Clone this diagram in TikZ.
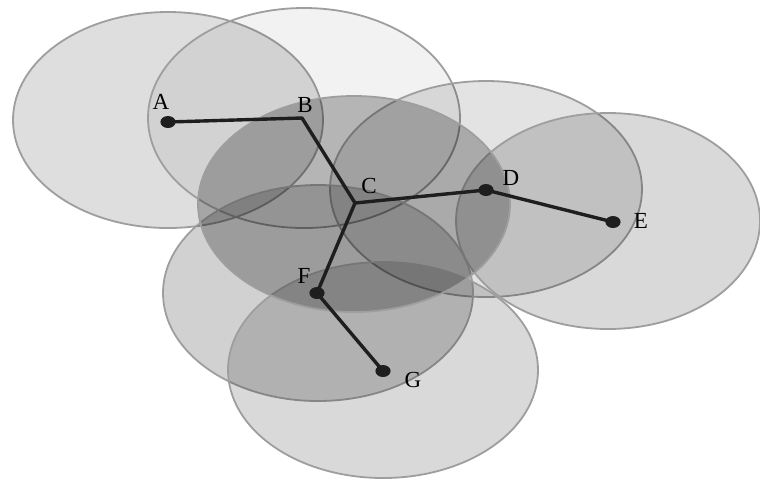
\documentclass[tikz,border=0pt]{standalone}
\usepackage{fontspec}
\setmainfont{Liberation Serif}
\usetikzlibrary{shapes.geometric}
\definecolor{rimgray}{RGB}{158,158,158}
\definecolor{linkdark}{RGB}{30,30,30}

\begin{document}
\begin{tikzpicture}[x=0.5pt,y=-0.5pt,
    zone/.style={draw=rimgray,line width=0.9pt,fill=black,fill opacity=#1},
    dot/.style={ellipse,fill=linkdark,inner sep=0pt,minimum width=7.6pt,minimum height=6pt},
    joint/.style={coordinate},
    tag/.style={font=\fontsize{11.5}{12}\selectfont,inner sep=0pt},
    link/.style={draw=linkdark,line width=1.7pt,line join=round}]
    \useasboundingbox (0,0) rectangle (760,479);
    \fill[white] (0,0) rectangle (760,479);
    % coverage zones
    \path[zone=0.13] (168,120) ellipse [x radius=77.5pt,y radius=54pt];
    \path[zone=0.05] (304,118) ellipse [x radius=78pt,y radius=55pt];
    \path[zone=0.11] (486,189) ellipse [x radius=78pt,y radius=54pt];
    \path[zone=0.15] (608,221) ellipse [x radius=76pt,y radius=54pt];
    \path[zone=0.18] (318,293) ellipse [x radius=77.5pt,y radius=54pt];
    \path[zone=0.15] (383,370) ellipse [x radius=77.5pt,y radius=54pt];
    \path[zone=0.25] (354,204) ellipse [x radius=78pt,y radius=54pt];
    % sensor nodes
    \node[dot] (a) at (168,122) {};
    \node[joint] (b) at (302,118) {};
    \node[joint] (c) at (355,203) {};
    \node[dot] (d) at (486,190) {};
    \node[dot] (e) at (613,222) {};
    \node[dot] (f) at (317,293) {};
    \node[dot] (g) at (383,371) {};
    \draw[link] (a.center) -- (b) -- (c) -- (d.center) -- (e.center);
    \draw[link] (c) -- (f.center) -- (g.center);
    \node[tag] (ta) at (161,102) {A};
    \node[tag] (tb) at (305,105) {B};
    \node[tag] (tc) at (369,186) {C};
    \node[tag] (td) at (511,178) {D};
    \node[tag] (te) at (641,221) {E};
    \node[tag] (tf) at (304,276) {F};
    \node[tag] (tg) at (413,380) {G};
\end{tikzpicture}
\end{document}
